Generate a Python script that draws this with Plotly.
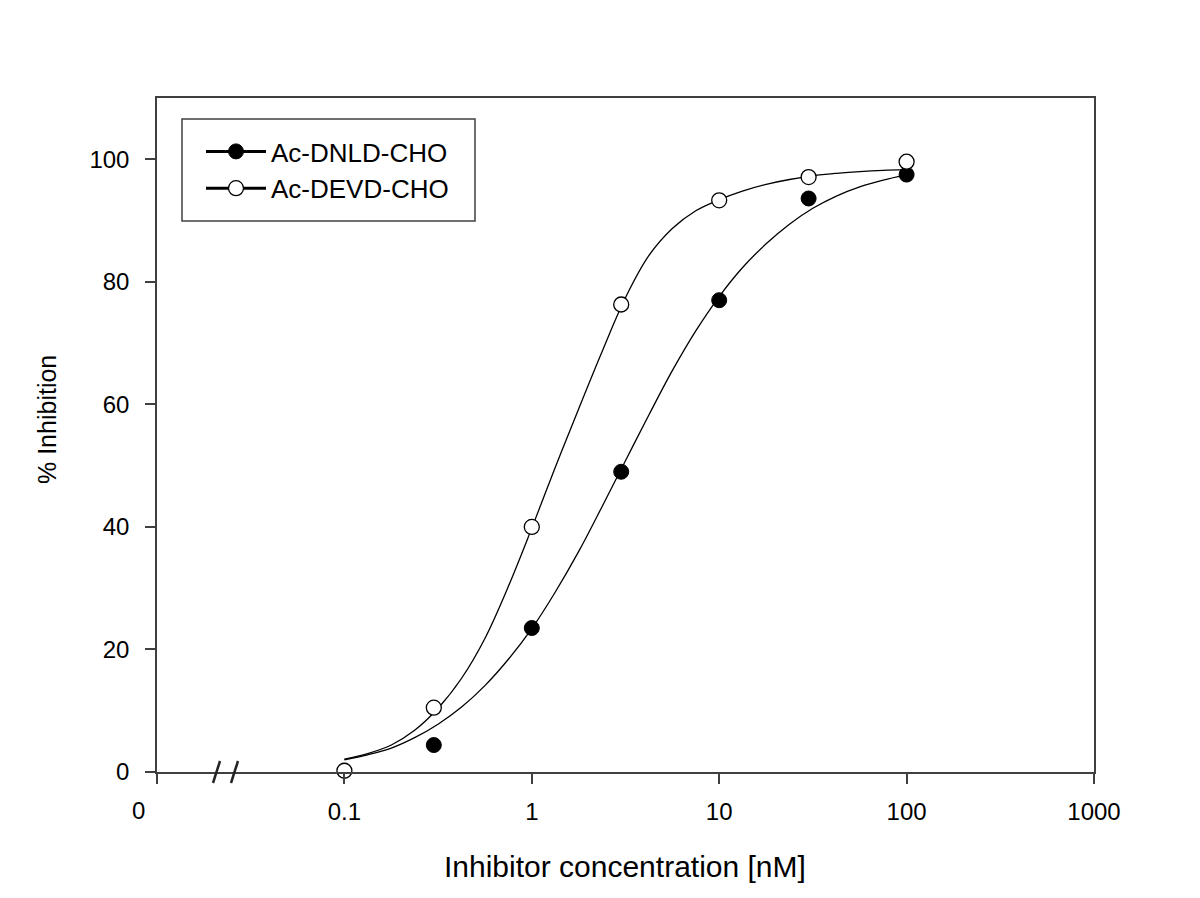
import plotly.graph_objects as go

# measured data points
conc_dnld = [0.3, 1, 3, 10, 30, 100]
inh_dnld = [4.4, 23.5, 49.0, 77.0, 93.6, 97.5]
conc_devd = [0.1, 0.3, 1, 3, 10, 30, 100]
inh_devd = [0.2, 10.5, 40.0, 76.3, 93.3, 97.1, 99.6]

# fitted curves
fit_x = [0.1, 0.133, 0.178, 0.237, 0.316, 0.422, 0.562, 0.75, 1.0, 1.33, 1.78, 2.37, 3.16,
         4.22, 5.62, 7.5, 10, 13.3, 17.8, 23.7, 31.6, 42.2, 56.2, 75, 100]
fit_dnld_y = [2.0, 2.8, 3.9, 5.6, 7.8, 10.6, 14.1, 18.4, 23.4, 29.3, 36.0, 43.3, 50.8,
              58.3, 65.5, 72.0, 77.6, 82.3, 86.2, 89.4, 92.0, 94.0, 95.5, 96.6, 97.5]
fit_devd_y = [2.1, 3.0, 4.4, 6.8, 10.4, 15.3, 21.8, 30.3, 39.8, 49.6, 59.3, 68.6, 77.4,
              84.3, 88.7, 91.6, 93.4, 94.8, 95.9, 96.7, 97.3, 97.7, 98.0, 98.2, 98.3]

x_tickvals = [0.01, 0.1, 1, 10, 100, 1000]
x_ticktext = ["", "0.1", "1", "10", "100", "1000"]
y_tickvals = [0, 20, 40, 60, 80, 100]

series_names = ["Ac-DNLD-CHO", "Ac-DEVD-CHO"]

FONT = "Arial, Liberation Sans, Helvetica, sans-serif"
AX = "#404040"

fig = go.Figure()

curve_line = dict(color="black", width=1.3, shape="spline", smoothing=1.0)
fig.add_trace(go.Scatter(x=fit_x, y=fit_dnld_y, mode="lines", line=curve_line,
                         showlegend=False, hoverinfo="skip"))
fig.add_trace(go.Scatter(x=fit_x, y=fit_devd_y, mode="lines", line=curve_line,
                         showlegend=False, hoverinfo="skip"))

fig.add_trace(go.Scatter(x=conc_dnld, y=inh_dnld, mode="markers", showlegend=False, cliponaxis=False,
                         marker=dict(symbol="circle", size=15, color="black", line=dict(color="black", width=1))))
fig.add_trace(go.Scatter(x=conc_devd, y=inh_devd, mode="markers", showlegend=False, cliponaxis=False,
                         marker=dict(symbol="circle", size=15, color="white", line=dict(color="black", width=1.3))))

# legend entries
fig.add_trace(go.Scatter(x=[None], y=[None], mode="lines+markers", name=series_names[0],
                         line=dict(color="black", width=3),
                         marker=dict(symbol="circle", size=15, color="black", line=dict(color="black", width=1))))
fig.add_trace(go.Scatter(x=[None], y=[None], mode="lines+markers", name=series_names[1],
                         line=dict(color="black", width=3),
                         marker=dict(symbol="circle", size=15, color="white", line=dict(color="black", width=1.3))))

# page-pixel geometry of the plot area (page has an 8px body margin)
OFF = 8
L, R, T, B = 157, 1094, 98, 772
FW, FH = 1184, 882
PW, PH = R - L, B - T


def px(x):
    return (x - L) / PW


def py(y):
    return (B - y) / PH


shapes = [
    # legend box
    dict(type="rect", xref="paper", yref="paper", x0=px(182), x1=px(475), y0=py(221), y1=py(119),
         line=dict(color=AX, width=1.5), fillcolor="rgba(0,0,0,0)"),
    # axis break marks
    dict(type="line", xref="paper", yref="paper", x0=px(213), y0=py(783), x1=px(220), y1=py(761),
         line=dict(color="#222", width=2.5)),
    dict(type="line", xref="paper", yref="paper", x0=px(231), y0=py(783), x1=px(238), y1=py(761),
         line=dict(color="#222", width=2.5)),
]

annotations = [
    dict(text="0", xref="paper", yref="paper", x=px(138), y=0, xanchor="center", yanchor="middle",
         yshift=-38, showarrow=False, font=dict(size=24, family=FONT, color="black")),
    dict(text="Inhibitor concentration [nM]", xref="paper", yref="paper", x=px(625), y=py(866),
         xanchor="center", yanchor="middle", showarrow=False,
         font=dict(size=30, family=FONT, color="black")),
    dict(text="% Inhibition", xref="paper", yref="paper", x=px(47), y=py(420), textangle=-90,
         xanchor="center", yanchor="middle", showarrow=False,
         font=dict(size=25, family=FONT, color="black")),
]

fig.update_layout(
    width=FW, height=FH,
    margin=dict(l=L - OFF, r=FW - (R - OFF), t=T - OFF, b=FH - (B - OFF), autoexpand=False),
    paper_bgcolor="white", plot_bgcolor="white",
    font=dict(family=FONT, color="black"),
    shapes=shapes,
    annotations=annotations,
    showlegend=True,
    legend=dict(x=px(201), y=py(128), xanchor="left", yanchor="top",
                bgcolor="rgba(0,0,0,0)", borderwidth=0,
                font=dict(size=26, family=FONT, color="black"),
                itemwidth=60, tracegroupgap=0),
)

fig.update_xaxes(
    type="log", range=[-2, 3],
    tickmode="array", tickvals=x_tickvals, ticktext=x_ticktext,
    ticks="outside", ticklen=10, tickwidth=1.5, tickcolor=AX,
    showline=True, linecolor=AX, linewidth=1.5, mirror=True,
    showgrid=False, zeroline=False, ticklabelstandoff=7,
    tickfont=dict(size=24, family=FONT, color="black"),
)
fig.update_yaxes(
    range=[0, 110],
    tickmode="array", tickvals=y_tickvals,
    ticks="outside", ticklen=10, tickwidth=1.5, tickcolor=AX,
    showline=True, linecolor=AX, linewidth=1.5, mirror=True,
    showgrid=False, zeroline=False, ticklabelstandoff=11,
    tickfont=dict(size=24, family=FONT, color="black"),
)

fig.write_html("out.html")
